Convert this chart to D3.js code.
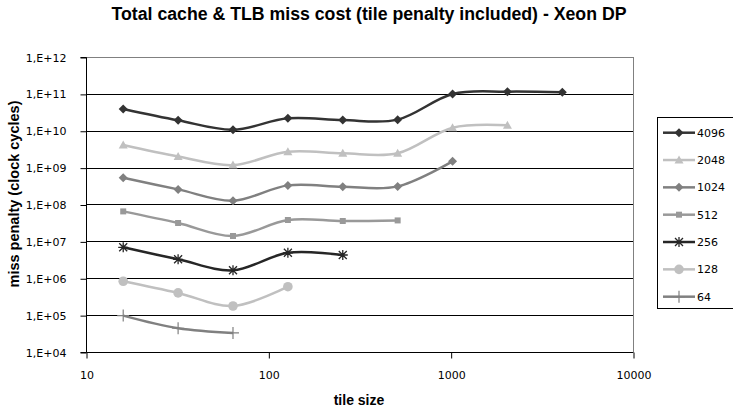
<!DOCTYPE html>
<html><head><meta charset="utf-8">
<script src="https://cdn.jsdelivr.net/npm/d3@7"></script>
<style>body{margin:0;background:#fff}</style>
</head><body>
<svg id="c" width="733" height="411"></svg>
<script>
const tileSizes = [16, 32, 64, 128, 256, 512, 1024, 2048, 4096];
const seriesNames = ["4096", "2048", "1024", "512", "256", "128", "64"];
const s4096 = [3.9e10, 1.92e10, 1.07e10, 2.17e10, 1.95e10, 2.0e10, 9.9e10, 1.15e11, 1.1e11];
const s2048 = [4.1e9, 2.0e9, 1.17e9, 2.7e9, 2.44e9, 2.44e9, 1.21e10, 1.40e10];
const s1024 = [5.3e8, 2.57e8, 1.27e8, 3.3e8, 3.04e8, 3.1e8, 1.48e9];
const s512 = [6.5e7, 3.15e7, 1.4e7, 3.8e7, 3.57e7, 3.7e7];
const s256 = [6.9e6, 3.27e6, 1.64e6, 4.9e6, 4.27e6];
const s128 = [8.3e5, 4.0e5, 1.77e5, 5.9e5];
const s64 = [9.7e4, 4.4e4, 3.3e4];
const yTickLabels = ["1,E+04","1,E+05","1,E+06","1,E+07","1,E+08","1,E+09","1,E+10","1,E+11","1,E+12"];
const xTickValues = [10, 100, 1000, 10000];

const seriesValues = [s4096, s2048, s1024, s512, s256, s128, s64];
const colors = ["#333333", "#c0c0c0", "#808080", "#999999", "#262626", "#c0c0c0", "#808080"];
const markers = ["diamond", "triangle", "diamond", "square", "asterisk", "circle", "plus"];

const svg = d3.select("#c");
const L = 86, R = 633, T = 57, B = 352;
const x = d3.scaleLog().domain([10, 10000]).range([L, R]);
const y = d3.scaleLog().domain([1e4, 1e12]).range([B, T]);

// title
svg.append("text").attr("x", 369).attr("y", 20).attr("text-anchor", "middle")
  .attr("font-family", "Liberation Sans, Arial, sans-serif").attr("font-weight", "bold")
  .attr("font-size", 17.5).attr("textLength", 515).attr("lengthAdjust", "spacingAndGlyphs")
  .text("Total cache & TLB miss cost (tile penalty included) - Xeon DP");

// gridlines
const yTicks = yTickLabels.map((d, i) => Math.pow(10, 4 + i));
svg.append("g").selectAll("line").data(yTicks.slice(1)).join("line")
  .attr("x1", L).attr("x2", R)
  .attr("y1", d => Math.round(y(d)) + 0.5).attr("y2", d => Math.round(y(d)) + 0.5)
  .attr("stroke", d => d === 1e12 ? "#808080" : "#000").attr("stroke-width", 1);
// right border
svg.append("line").attr("x1", R + 0.5).attr("x2", R + 0.5).attr("y1", T).attr("y2", B)
  .attr("stroke", "#808080");

// axes
const yAxis = d3.axisLeft(y).tickValues(yTicks).tickFormat((d, i) => yTickLabels[i]).tickSize(6).tickPadding(14);
const gy = svg.append("g").attr("transform", `translate(${L + 0.5},0.5)`).call(yAxis);
gy.selectAll("text").attr("font-family", "DejaVu Sans, Verdana, sans-serif").attr("font-size", 11).attr("fill", "#000");
gy.selectAll("line,path").attr("stroke", "#000");
gy.select("path").attr("d", `M-6,${Math.round(T)}H0V${B}H-6`);

const xAxis = d3.axisBottom(x).tickValues(xTickValues).tickFormat(d3.format("d")).tickSize(6).tickPadding(13);
const gx = svg.append("g").attr("transform", `translate(0.5,${B + 0.5})`).call(xAxis);
gx.selectAll("text").attr("font-family", "DejaVu Sans, Verdana, sans-serif").attr("font-size", 11).attr("fill", "#000");
gx.selectAll("line,path").attr("stroke", "#000");
gx.select("path").attr("d", `M${L},0H${R}`);

// axis titles
svg.append("text").attr("x", 359).attr("y", 405).attr("text-anchor", "middle")
  .attr("font-family", "Liberation Sans, Arial, sans-serif").attr("font-weight", "bold")
  .attr("font-size", 14).text("tile size");
svg.append("text").attr("transform", "translate(19,194) rotate(-90)").attr("text-anchor", "middle")
  .attr("font-family", "Liberation Sans, Arial, sans-serif").attr("font-weight", "bold")
  .attr("font-size", 14.5).text("miss penalty (clock cycles)");

function drawMarker(g, type, color) {
  if (type === "diamond") g.append("path").attr("d", "M0,-4.5L4.5,0L0,4.5L-4.5,0Z").attr("fill", color);
  else if (type === "triangle") g.append("path").attr("d", "M0,-4.5L4.5,3.5L-4.5,3.5Z").attr("fill", color);
  else if (type === "square") g.append("rect").attr("x", -3).attr("y", -3).attr("width", 6).attr("height", 6).attr("fill", color);
  else if (type === "circle") g.append("circle").attr("r", 4.8).attr("fill", color);
  else if (type === "asterisk") g.append("path").attr("d", "M-5,0H5M0,-5V5M-4,-4L4,4M-4,4L4,-4").attr("stroke", color).attr("stroke-width", 1.3).attr("fill", "none");
  else if (type === "plus") g.append("path").attr("d", "M-6,0H6M0,-6V6").attr("stroke", color).attr("stroke-width", 1.2).attr("fill", "none");
}

const line = d3.line().x(d => x(d[0])).y(d => y(d[1])).curve(d3.curveCardinal.tension(0));
seriesValues.forEach((vals, si) => {
  const pts = vals.map((v, i) => [tileSizes[i], v]);
  svg.append("path").attr("d", line(pts)).attr("fill", "none")
    .attr("stroke", colors[si]).attr("stroke-width", 2.5);
  pts.forEach(p => {
    const g = svg.append("g").attr("transform", `translate(${x(p[0])},${y(p[1])})`);
    drawMarker(g, markers[si], colors[si]);
  });
});

// legend
const lg = svg.append("g");
lg.append("rect").attr("x", 657.5).attr("y", 117.5).attr("width", 90).attr("height", 191)
  .attr("fill", "#fff").attr("stroke", "#000");
seriesNames.forEach((n, i) => {
  const yy = 132.7 + i * 27.33;
  lg.append("line").attr("x1", 663).attr("x2", 695).attr("y1", yy).attr("y2", yy)
    .attr("stroke", colors[i]).attr("stroke-width", 2.5);
  const g = lg.append("g").attr("transform", `translate(679,${yy})`);
  drawMarker(g, markers[i], colors[i]);
  lg.append("text").attr("x", 697).attr("y", yy + 4).attr("font-family", "DejaVu Sans, Verdana, sans-serif")
    .attr("font-size", 11).text(n);
});
</script>
</body></html>
